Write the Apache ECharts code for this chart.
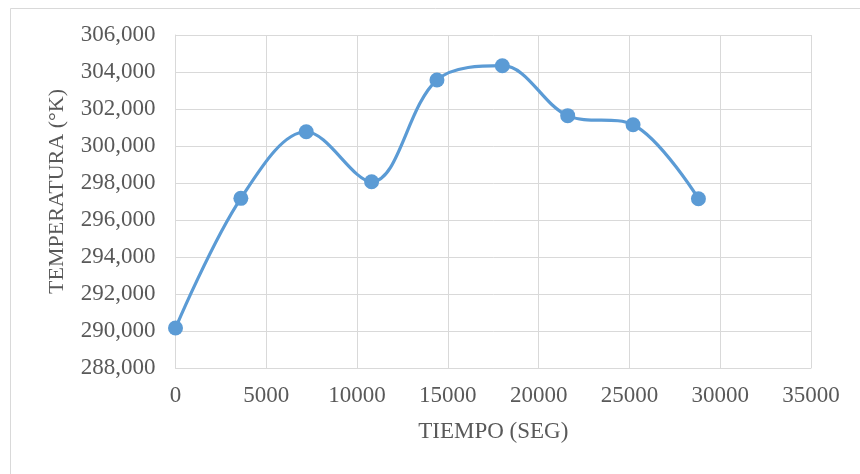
<!DOCTYPE html>
<html><head><meta charset="utf-8">
<script src="https://cdn.jsdelivr.net/npm/echarts@6/dist/echarts.min.js"></script>
<style>html,body{margin:0;padding:0;background:#fff}#c{width:860px;height:474px}</style>
</head><body><div id="c"></div>
<script>
const tiempo = [0, 3600, 7200, 10800, 14400, 18000, 21600, 25200, 28800];
const temperatura = [290.16, 297.17, 300.77, 298.07, 303.57, 304.34, 301.64, 301.15, 297.15];
const xTitle = 'TIEMPO (SEG)';
const yTitle = 'TEMPERATURA (°K)';

const chart = echarts.init(document.getElementById('c'), null, {renderer: 'canvas'});
const font = 'Liberation Serif';
const txt = '#595959';
const fs = 23;
chart.setOption({
  animation: false,
  backgroundColor: '#fff',
  graphic: [{
    type: 'rect', left: 8, top: 6, silent: true,
    shape: {x: 0, y: 0, width: 860, height: 480},
    style: {fill: 'none', stroke: '#d9d9d9', lineWidth: 1}
  }],
  grid: {left: 175.5, right: 49, top: 35, bottom: 106},
  xAxis: {
    type: 'value', min: 0, max: 35000, interval: 5000,
    name: xTitle, nameLocation: 'middle', nameGap: 52,
    nameTextStyle: {fontFamily: font, fontSize: fs, color: txt},
    axisLine: {show: true, lineStyle: {color: '#d9d9d9', width: 1}},
    axisTick: {show: false},
    axisLabel: {fontFamily: font, fontSize: fs, color: txt, margin: 16,
      formatter: v => String(v)},
    splitLine: {show: true, lineStyle: {color: '#d9d9d9', width: 1}}
  },
  yAxis: {
    type: 'value', min: 288, max: 306, interval: 2,
    name: yTitle, nameLocation: 'middle', nameGap: 107, nameRotate: 90,
    nameTextStyle: {fontFamily: font, fontSize: 22, color: txt, padding: [0, 0, 0, 20]},
    axisLine: {show: true, lineStyle: {color: '#d9d9d9', width: 1}},
    axisTick: {show: false},
    axisLabel: {fontFamily: font, fontSize: fs, color: txt, margin: 20,
      formatter: v => v.toFixed(3).replace('.', ',')},
    splitLine: {show: true, lineStyle: {color: '#d9d9d9', width: 1}}
  },
  series: [{
    type: 'line',
    data: tiempo.map((t, i) => [t, temperatura[i]]),
    smooth: 0.35,
    symbol: 'circle', symbolSize: 15,
    lineStyle: {color: '#5b9bd5', width: 3.2},
    itemStyle: {color: '#5b9bd5'}
  }]
});
</script>
</body></html>
